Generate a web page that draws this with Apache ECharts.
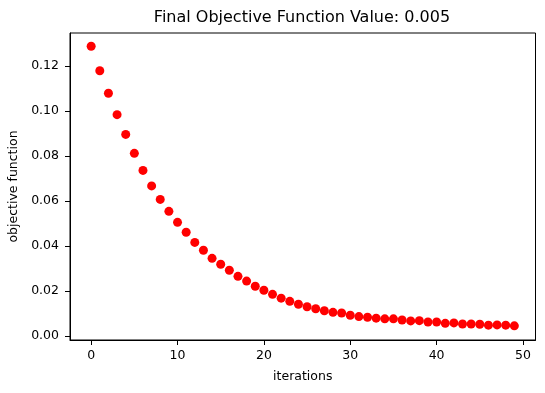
<!DOCTYPE html>
<html>
<head>
<meta charset="utf-8">
<script src="https://cdn.jsdelivr.net/npm/echarts@6/dist/echarts.min.js"></script>
<style>html,body{margin:0;padding:0;background:#fff;}#c{width:545px;height:393px;}</style>
</head>
<body>
<div id="c"></div>
<script>
const iterations = [0,1,2,3,4,5,6,7,8,9,10,11,12,13,14,15,16,17,18,19,20,21,22,23,24,25,26,27,28,29,30,31,32,33,34,35,36,37,38,39,40,41,42,43,44,45,46,47,48,49];
const objectiveValues = [0.1288,0.1179,0.1079,0.0984,0.0896,0.0812,0.0736,0.0667,0.0607,0.0554,
  0.0505,0.0461,0.0416,0.0381,0.0345,0.0319,0.0292,0.0265,0.0244,0.0221,
  0.0203,0.0185,0.0168,0.0154,0.0141,0.0130,0.0121,0.0112,0.0105,0.0102,
  0.0092,0.0086,0.0083,0.0079,0.0076,0.0076,0.0071,0.0067,0.0068,0.0062,
  0.0062,0.0056,0.0058,0.0053,0.0053,0.0052,0.0048,0.0049,0.0048,0.0045];
const xTicks = [0,10,20,30,40,50];
const yTicks = [0,0.02,0.04,0.06,0.08,0.10,0.12];
const titleText = 'Final Objective Function Value: 0.005';

const font = 'DejaVu Sans';
const chart = echarts.init(document.getElementById('c'), null, {renderer:'canvas'});
chart.setOption({
  animation: false,
  backgroundColor: '#fff',
  graphic: [{
    type: 'text', x: 302, y: 18,
    style: {text: titleText, fontFamily: font, fontSize: 16, fill: '#000', align: 'center', verticalAlign: 'middle'}
  }],
  grid: {left: 70, right: 9.5, top: 33, bottom: 53, show: true, borderColor: '#000', borderWidth: 1,
    backgroundColor: 'transparent', containLabel: false, outerBoundsMode: 'none'},
  xAxis: {
    type: 'value', min: -2.45, max: 51.45,
    name: 'iterations', nameLocation: 'middle', nameGap: 30,
    nameTextStyle: {fontFamily: font, fontSize: 12.5, color: '#000'},
    axisLine: {show: true, onZero: false, lineStyle: {color: '#000', width: 1}},
    axisTick: {show: true, length: 5, lineStyle: {color: '#000'}, customValues: xTicks},
    axisLabel: {fontFamily: font, fontSize: 12.5, color: '#000', margin: 9, customValues: xTicks},
    splitLine: {show: false}
  },
  yAxis: {
    type: 'value', min: -0.0018, max: 0.1347,
    name: 'objective function', nameLocation: 'middle', nameGap: 48,
    nameTextStyle: {fontFamily: font, fontSize: 12.5, color: '#000'},
    axisLine: {show: true, onZero: false, lineStyle: {color: '#000', width: 1}},
    axisTick: {show: true, length: 5, lineStyle: {color: '#000'}, customValues: yTicks},
    axisLabel: {fontFamily: font, fontSize: 12.5, color: '#000', margin: 11, customValues: yTicks,
      formatter: v => v.toFixed(2)},
    splitLine: {show: false}
  },
  series: [{
    type: 'scatter',
    data: iterations.map((it, i) => [it, objectiveValues[i]]),
    symbol: 'circle', symbolSize: 9,
    itemStyle: {color: '#ff0000', opacity: 1}
  }]
});
</script>
</body>
</html>
